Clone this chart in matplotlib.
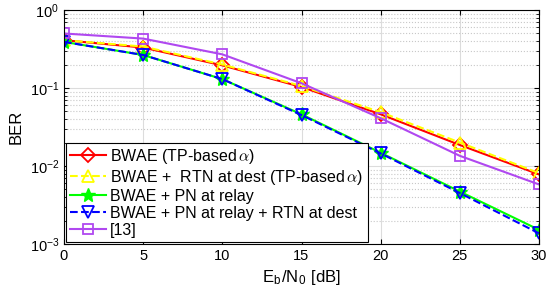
import numpy as np
import matplotlib
matplotlib.use('Agg')
import matplotlib.pyplot as plt

# data
snr = [0, 5, 10, 15, 20, 25, 30]
ber_bwae = [0.41, 0.33, 0.195, 0.103, 0.046, 0.0186, 0.0078]
ber_bwae_rtn = [0.41, 0.34, 0.20, 0.106, 0.049, 0.020, 0.0081]
ber_pn = [0.39, 0.265, 0.13, 0.046, 0.0148, 0.0047, 0.00152]
ber_pn_rtn = [0.39, 0.265, 0.13, 0.045, 0.0145, 0.0045, 0.00137]
ber_ref13 = [0.50, 0.43, 0.27, 0.115, 0.041, 0.0135, 0.0058]

labels = ['BWAE (TP-based$\\,\\alpha$)',
          'BWAE +  RTN at dest (TP-based$\\,\\alpha$)',
          'BWAE + PN at relay',
          'BWAE + PN at relay + RTN at dest',
          '[13]']

plt.rcParams['font.family'] = ['Liberation Sans', 'DejaVu Sans']
plt.rcParams['mathtext.fontset'] = 'cm'

fig = plt.figure(figsize=(5.47, 2.96), dpi=100)
ax = fig.add_axes([64/547, 1-244/296, 475/547, 234/296])

ax.semilogy(snr, ber_bwae, color='red', ls='-', lw=1.5, marker='D', ms=7,
            mfc='none', mew=1.3, label=labels[0])
ax.semilogy(snr, ber_bwae_rtn, color='yellow', ls='--', lw=1.5, marker='^', ms=9,
            mfc='none', mew=1.3, label=labels[1])
ax.semilogy(snr, ber_pn, color='#00ff00', ls='-', lw=1.5, marker='*', ms=10,
            mew=1, label=labels[2])
ax.semilogy(snr, ber_pn_rtn, color='blue', ls='--', lw=1.5, marker='v', ms=9,
            mfc='none', mew=1.3, label=labels[3])
ax.semilogy(snr, ber_ref13, color='#b048f0', ls='-', lw=1.5, marker='s', ms=7,
            mfc='none', mew=1.3, label=labels[4])

ax.set_xlim(0, 30)
ax.set_ylim(1e-3, 1)
ax.set_xticks([0, 5, 10, 15, 20, 25, 30])
ax.grid(True, which='major', color='#dcdcdc', lw=0.8)
ax.grid(True, which='minor', color='#c8c8c8', ls=':', lw=0.8)
ax.tick_params(which='both', direction='in', top=True, right=True, labelsize=10.5)
ax.set_xlabel('E$_\\mathregular{b}$/N$_\\mathregular{0}$ [dB]', fontsize=12)
ax.set_ylabel('BER', fontsize=12)

leg = ax.legend(loc='lower left', fontsize=11.5, fancybox=False, edgecolor='black',
                framealpha=1, borderaxespad=0.15, handlelength=2.2,
                labelspacing=0.12, borderpad=0.25, handletextpad=0.3)
leg.get_frame().set_linewidth(0.8)

fig.savefig('out.png', dpi=100)
